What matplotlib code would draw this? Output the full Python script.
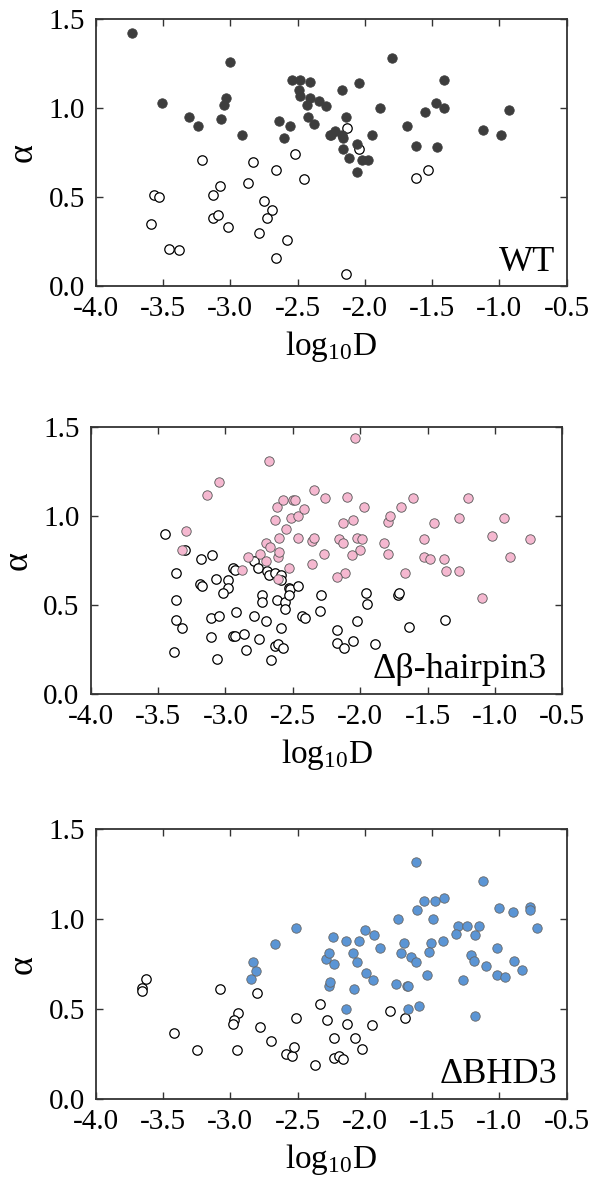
import numpy as np
import matplotlib

matplotlib.use("Agg")
import matplotlib.pyplot as plt
from matplotlib.ticker import FormatStrFormatter, MultipleLocator

plt.rcParams["font.family"] = ["Liberation Serif", "DejaVu Serif"]
plt.rcParams["mathtext.fontset"] = "custom"
plt.rcParams["mathtext.rm"] = "Liberation Serif"
plt.rcParams["mathtext.default"] = "regular"
plt.rcParams["axes.unicode_minus"] = False

# ---------- data: (log10 D, alpha) ----------
wt_fast_x = [-3.73, -3.51, -3.31, -3.24, -3.00, -3.03, -3.05, -3.07, -2.91, -2.64,
             -2.60, -2.56, -2.54, -2.48, -2.41, -2.49, -2.48, -2.41, -2.43, -2.34,
             -2.29, -2.42, -2.38, -2.26, -2.17, -2.04, -1.80, -2.14, -2.25, -2.22,
             -2.17, -2.16, -2.16, -2.12, -2.06, -2.06, -2.02, -1.975, -1.95, -1.89,
             -1.69, -1.62, -1.55, -1.47, -1.41, -1.41, -1.465, -1.12, -0.99, -0.93]
wt_fast_y = [1.42, 1.03, 0.95, 0.90, 1.26, 1.06, 1.02, 0.94, 0.85, 0.93,
             0.83, 0.90, 1.16, 1.16, 1.15, 1.10, 1.07, 1.06, 1.02, 1.04,
             1.01, 0.95, 0.91, 0.85, 1.10, 1.14, 1.28, 0.95, 0.85, 0.87,
             0.85, 0.83, 0.77, 0.72, 0.80, 0.64, 0.71, 0.71, 0.85, 1.00,
             0.90, 0.79, 0.98, 1.03, 1.16, 1.00, 0.78, 0.88, 0.85, 0.99]
wt_slow_x = [-3.21, -3.57, -3.53, -3.59, -3.46, -3.38, -3.13, -3.08, -3.13, -3.09,
             -3.02, -2.87, -2.83, -2.75, -2.69, -2.73, -2.79, -2.66, -2.66, -2.58,
             -2.52, -2.45, -2.13, -2.04, -1.62, -1.53, -2.14]
wt_slow_y = [0.71, 0.51, 0.50, 0.35, 0.21, 0.20, 0.51, 0.56, 0.38, 0.40,
             0.33, 0.58, 0.70, 0.48, 0.43, 0.38, 0.30, 0.65, 0.16, 0.26,
             0.74, 0.60, 0.89, 0.77, 0.61, 0.65, 0.07]

hp_fast_x = [-2.68, -3.05, -3.14, -3.29, -3.32, -2.88, -2.83, -2.74, -2.70, -2.67,
             -2.70, -2.61, -2.60, -2.61, -2.53, -2.60, -2.63, -2.62, -2.57, -2.55,
             -2.51, -2.50, -2.48, -2.46, -2.42, -2.46, -2.36, -2.34, -2.36, -2.34,
             -2.27, -2.26, -2.04, -2.10, -1.97, -2.05, -2.13, -2.16, -2.13, -2.02,
             -1.99, -2.00, -2.06, -2.11, -2.17, -1.82, -1.79, -1.79, -1.78, -1.70,
             -1.61, -1.67, -1.53, -1.53, -1.48, -1.45, -1.38, -1.36, -1.27, -1.27,
             -1.20, -1.10, -1.02, -0.93, -0.89, -0.74]
hp_fast_y = [1.31, 1.19, 1.12, 0.92, 0.81, 0.70, 0.77, 0.79, 0.85, 0.83,
             0.75, 0.77, 0.80, 0.65, 0.71, 0.88, 0.98, 1.05, 1.09, 0.93,
             0.99, 1.09, 1.09, 1.00, 1.04, 0.88, 0.86, 0.88, 0.73, 1.15,
             0.79, 1.10, 1.44, 1.11, 1.05, 0.98, 0.96, 0.87, 0.85, 0.88,
             0.87, 0.81, 0.78, 0.68, 0.66, 0.85, 0.79, 0.97, 1.00, 1.05,
             1.10, 0.68, 0.87, 0.77, 0.76, 0.96, 0.76, 0.69, 0.69, 0.99,
             1.10, 0.54, 0.89, 0.99, 0.77, 0.87]
hp_slow_x = [-3.45, -3.30, -3.37, -3.37, -3.37, -3.32, -3.38, -3.18, -3.10, -3.19,
             -3.17, -3.07, -2.98, -2.98, -3.02, -3.11, -3.05, -3.11, -3.06, -2.94,
             -2.93, -2.92, -2.94, -2.93, -2.86, -2.85, -2.79, -2.79, -2.76, -2.73,
             -2.73, -2.70, -2.75, -2.66, -2.69, -2.68, -2.63, -2.59, -2.59, -2.62,
             -2.56, -2.56, -2.53, -2.52, -2.53, -2.46, -2.59, -2.63, -2.61, -2.57,
             -2.43, -2.41, -2.29, -2.30, -1.96, -1.95, -1.72, -1.71, -2.02, -2.17,
             -2.17, -2.12, -2.05, -1.89, -1.64, -1.37]
hp_slow_y = [0.90, 0.81, 0.68, 0.53, 0.42, 0.37, 0.24, 0.76, 0.78, 0.62,
             0.61, 0.65, 0.64, 0.60, 0.57, 0.43, 0.44, 0.32, 0.20, 0.71,
             0.70, 0.46, 0.33, 0.33, 0.34, 0.25, 0.44, 0.75, 0.71, 0.56,
             0.52, 0.41, 0.31, 0.19, 0.69, 0.67, 0.68, 0.67, 0.64, 0.53,
             0.52, 0.48, 0.60, 0.59, 0.56, 0.61, 0.37, 0.27, 0.28, 0.26,
             0.44, 0.43, 0.56, 0.47, 0.57, 0.51, 0.56, 0.57, 0.41, 0.36,
             0.29, 0.26, 0.30, 0.28, 0.38, 0.42]

bhd_fast_x = [-2.51, -2.67, -2.83, -2.81, -2.85, -2.29, -2.27, -2.27, -1.62, -1.12,
              -1.56, -1.48, -1.41, -1.61, -1.75, -1.49, -1.00, -0.90, -0.77, -0.77,
              -0.72, -1.31, -1.24, -1.15, -1.32, -1.18, -2.00, -1.93, -2.24, -2.14,
              -2.04, -1.89, -1.71, -1.73, -1.51, -1.52, -1.42, -1.66, -1.62, -2.23,
              -2.09, -2.06, -1.99, -1.94, -2.26, -2.08, -2.14, -1.77, -1.69, -1.68,
              -1.54, -1.68, -1.60, -1.27, -1.21, -1.19, -1.10, -1.02, -1.02, -0.96,
              -0.89, -0.83, -1.18]
bhd_fast_y = [0.95, 0.86, 0.76, 0.71, 0.67, 0.78, 0.81, 0.63, 1.32, 1.21,
              1.10, 1.10, 1.12, 1.05, 1.00, 1.00, 1.06, 1.04, 1.07, 1.05,
              0.95, 0.96, 0.96, 0.96, 0.92, 0.91, 0.94, 0.91, 0.90, 0.88,
              0.88, 0.84, 0.87, 0.81, 0.87, 0.82, 0.88, 0.79, 0.76, 0.75,
              0.81, 0.76, 0.70, 0.66, 0.65, 0.61, 0.50, 0.64, 0.63, 0.63,
              0.69, 0.50, 0.52, 0.66, 0.80, 0.77, 0.74, 0.84, 0.69, 0.68,
              0.77, 0.72, 0.46]
bhd_slow_x = [-3.66, -3.66, -3.63, -3.42, -3.25, -3.08, -2.80, -2.94, -2.97, -2.98,
              -2.95, -2.78, -2.70, -2.59, -2.54, -2.53, -2.51, -2.37, -2.33, -2.28,
              -2.23, -2.13, -2.07, -2.02, -2.23, -2.19, -2.16, -1.95, -1.81, -1.70]
bhd_slow_y = [0.62, 0.60, 0.67, 0.37, 0.27, 0.61, 0.59, 0.48, 0.44, 0.42,
              0.27, 0.40, 0.32, 0.25, 0.24, 0.29, 0.45, 0.19, 0.53, 0.44,
              0.34, 0.42, 0.34, 0.28, 0.23, 0.24, 0.22, 0.41, 0.49, 0.45]

panels = [
    ("WT", wt_fast_x, wt_fast_y, wt_slow_x, wt_slow_y, "#3d3d3d", "#3d3d3d",
     [0.162, 0.7578, 0.795, 0.2259], (0.975, 0.055)),
    ("\u0394\u03b2-hairpin3", hp_fast_x, hp_fast_y, hp_slow_x, hp_slow_y, "#f5b8d0", "#555555",
     [0.153, 0.4121, 0.797, 0.2261], (0.967, 0.062)),
    ("\u0394BHD3", bhd_fast_x, bhd_fast_y, bhd_slow_x, bhd_slow_y, "#5b95d5", "#666666",
     [0.162, 0.0694, 0.795, 0.2284], (0.98, 0.06)),
]

fig = plt.figure(figsize=(5.92, 11.81), dpi=100)

for name, fx, fy, sx, sy, fc, ec, rect, tpos in panels:
    ax = fig.add_axes(rect)
    ax.scatter(sx, sy, s=46, facecolors="white", edgecolors="black", linewidths=0.9, zorder=2)
    ax.scatter(fx, fy, s=46, facecolors=fc, edgecolors=ec, linewidths=0.6, zorder=3)
    ax.set_xlim(-4.0, -0.5)
    ax.set_ylim(0.0, 1.5)
    ax.xaxis.set_major_locator(MultipleLocator(0.5))
    ax.yaxis.set_major_locator(MultipleLocator(0.5))
    ax.xaxis.set_major_formatter(FormatStrFormatter("%.1f"))
    ax.yaxis.set_major_formatter(FormatStrFormatter("%.1f"))
    ax.tick_params(direction="in", top=True, right=True, length=5, width=1.0,
                   labelsize=21, color="#333333")
    ax.tick_params(axis="x", pad=7)
    ax.tick_params(axis="y", pad=8)
    for sp in ax.spines.values():
        sp.set_linewidth(1.3)
        sp.set_color("#333333")
    ax.set_xlabel("log$_{10}$D", fontsize=24, labelpad=5)
    ax.set_ylabel("\u03b1", fontsize=26, labelpad=6)
    ax.text(tpos[0], tpos[1], name, transform=ax.transAxes, ha="right", va="baseline",
            fontsize=26)

fig.savefig("out.png", dpi=100)
